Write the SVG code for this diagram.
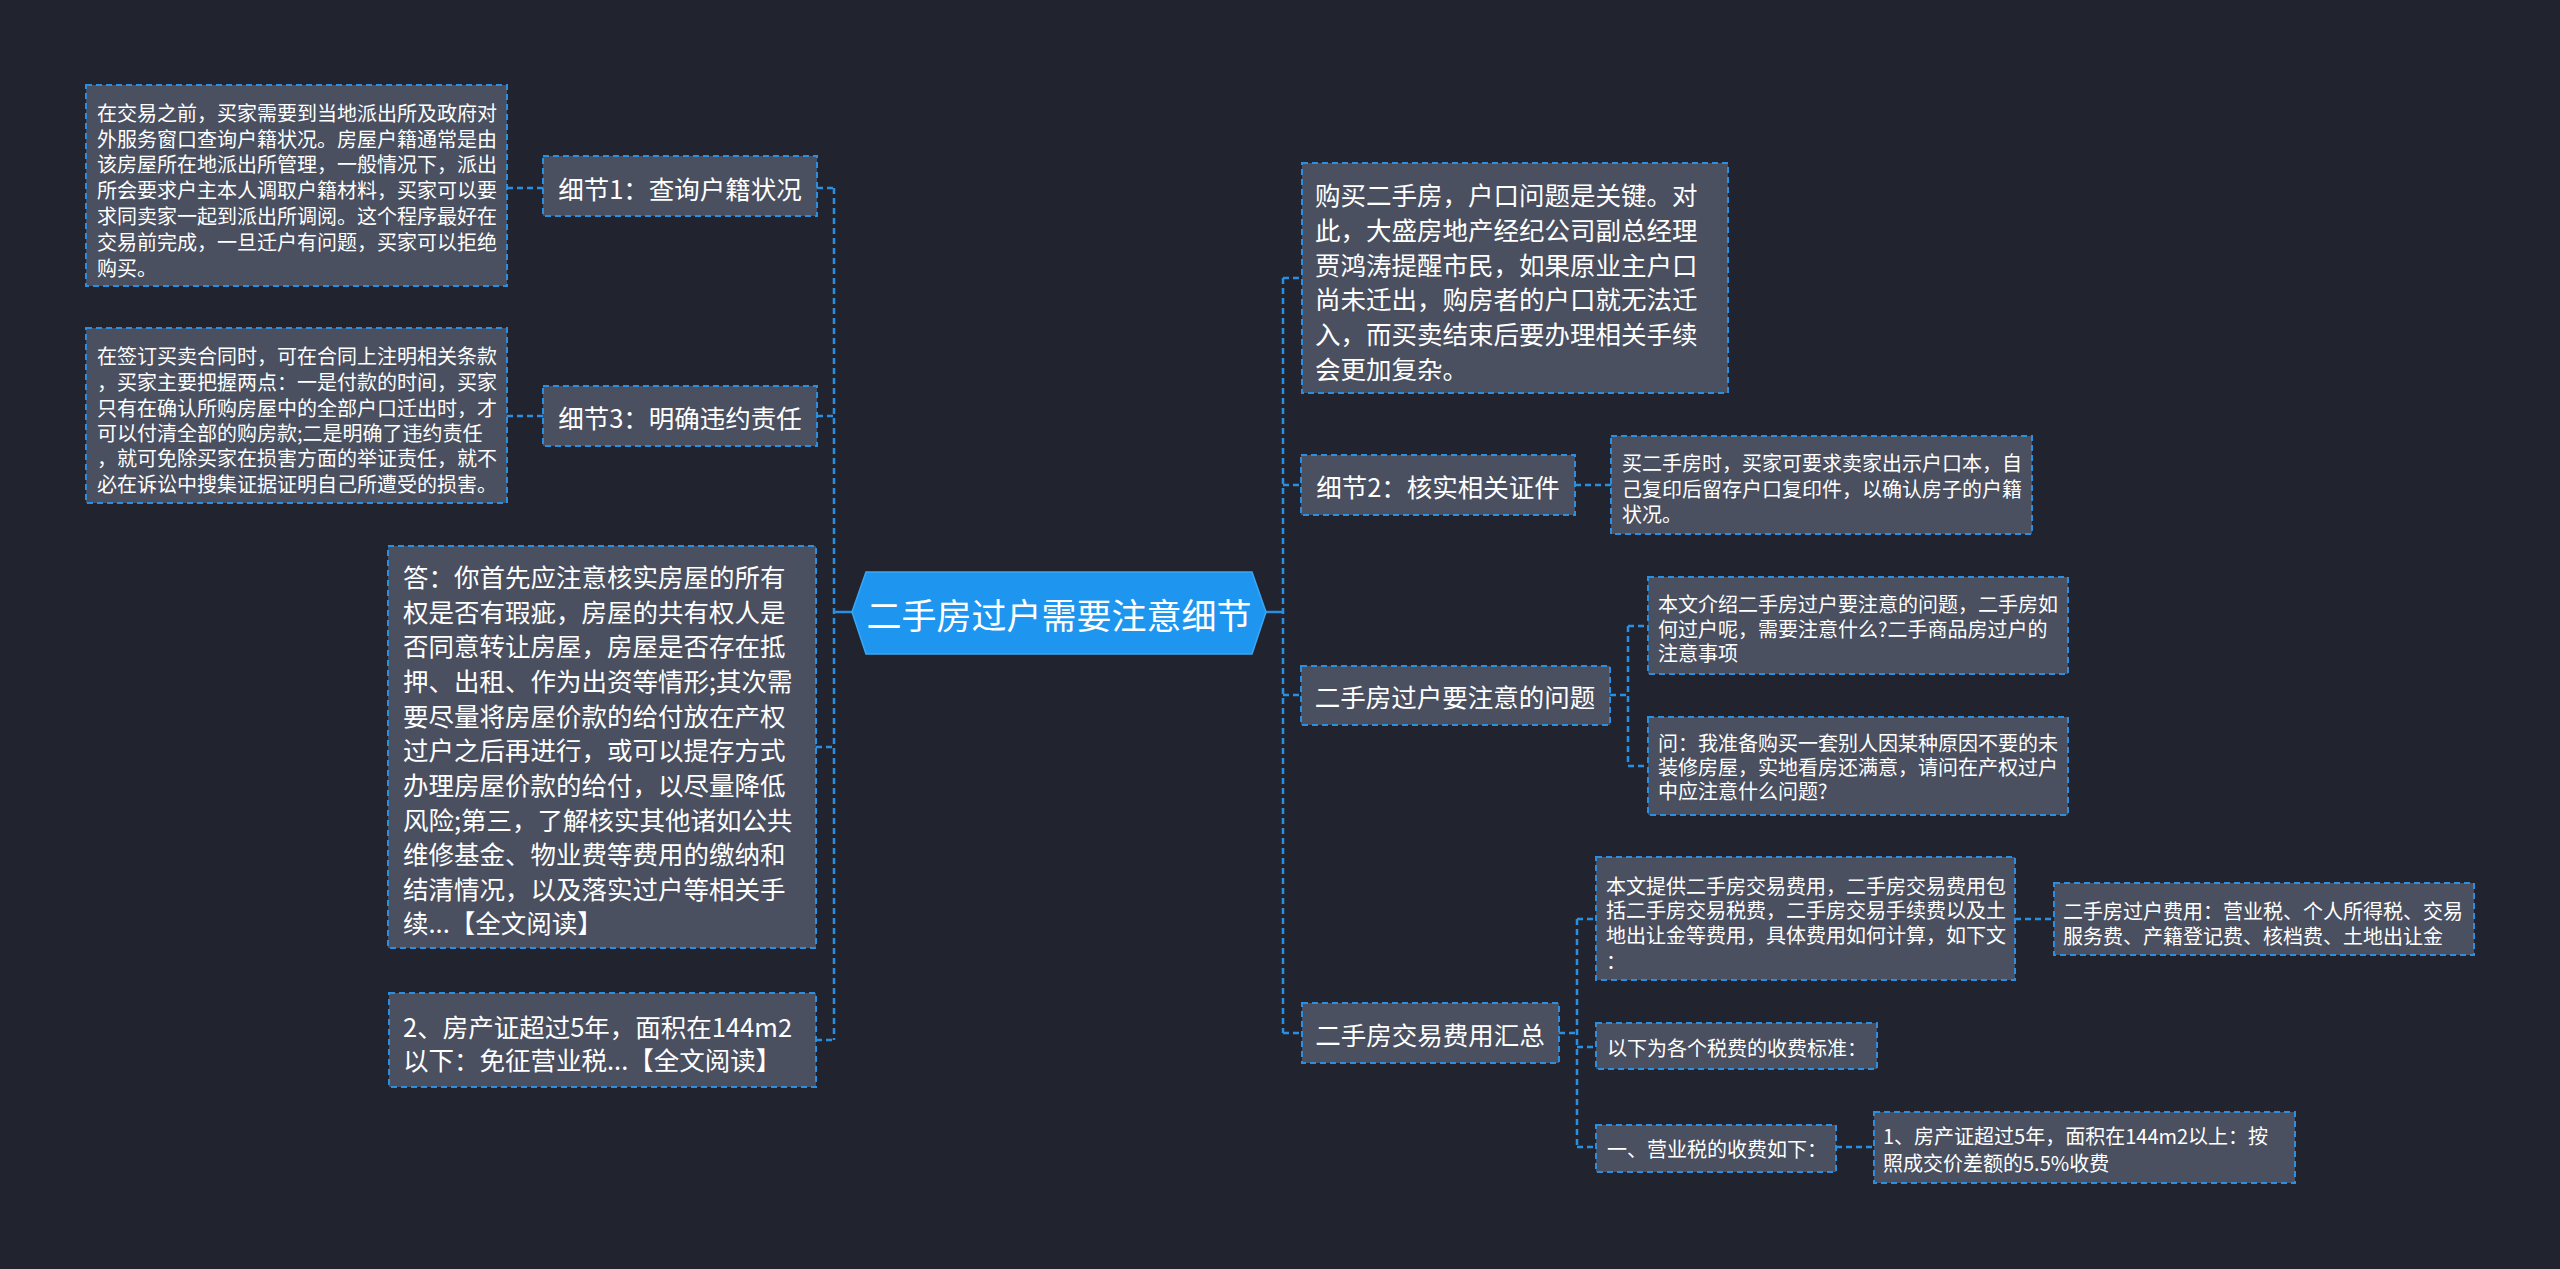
<svg xmlns="http://www.w3.org/2000/svg" width="2560" height="1269" viewBox="0 0 2560 1269">
<style>
.bg{fill:#21242f}
.box{fill:#4a505f;stroke:#2a8fe0;stroke-width:2;stroke-dasharray:6 4}
.t{font-family:"Noto Sans CJK SC","Noto Sans",sans-serif;fill:#ffffff;dominant-baseline:central}
.s{font-size:20px}
.m{font-size:25.5px}
.c{text-anchor:middle}
.ln{fill:none;stroke:#2a8fe0;stroke-width:2.5;stroke-dasharray:6 4}
.sol{fill:none;stroke:#2a8fe0;stroke-width:2.5}
</style>
<rect class="bg" x="0" y="0" width="2560" height="1269"/>
<g id="connectors">
<path class="sol" d="M852 612 H834"/>
<path class="sol" d="M1266 612 H1283"/>
<path class="ln" d="M834 188 V1040"/>
<path class="ln" d="M817 188 H834 M817 416 H834 M816 747 H834 M816 1040 H834"/>
<path class="ln" d="M507 188 H543 M507 416 H543"/>
<path class="ln" d="M1283 278 V1033"/>
<path class="ln" d="M1283 278 H1302 M1283 485 H1301 M1283 695 H1301 M1283 1033 H1302"/>
<path class="ln" d="M1575 485 H1611"/>
<path class="ln" d="M1610 695 H1628 M1628 626 V766 M1628 626 H1648 M1628 766 H1648"/>
<path class="ln" d="M1559 1033 H1577 M1577 919 V1147 M1577 919 H1596 M1577 1047 H1596 M1577 1147 H1596"/>
<path class="ln" d="M2015 919 H2054"/>
<path class="ln" d="M1836 1147 H1874"/>
</g>
<g id="root">
<polygon points="852,612 866,572 1252,572 1266,612 1252,654 866,654" fill="#1e96ef" stroke="#3aa6f5" stroke-width="1.5"/>
<text class="t c" x="1059" y="613" font-size="35">二手房过户需要注意细节</text>
</g>
<g id="n-detail1">
<rect class="box" x="543" y="156" width="274" height="60"/>
<text class="t m c" x="680" y="187">细节1：查询户籍状况</text>
</g>
<g id="n-detail1-text">
<rect class="box" x="86" y="85" width="421" height="201"/>
<text class="t s" x="97"><tspan x="97" y="112">在交易之前，买家需要到当地派出所及政府对</tspan><tspan x="97" y="138">外服务窗口查询户籍状况。房屋户籍通常是由</tspan><tspan x="97" y="163">该房屋所在地派出所管理，一般情况下，派出</tspan><tspan x="97" y="189">所会要求户主本人调取户籍材料，买家可以要</tspan><tspan x="97" y="215">求同卖家一起到派出所调阅。这个程序最好在</tspan><tspan x="97" y="241">交易前完成，一旦迁户有问题，买家可以拒绝</tspan><tspan x="97" y="267">购买。</tspan></text>
</g>
<g id="n-detail3">
<rect class="box" x="543" y="386" width="274" height="60"/>
<text class="t m c" x="680" y="416">细节3：明确违约责任</text>
</g>
<g id="n-detail3-text">
<rect class="box" x="86" y="328" width="421" height="175"/>
<text class="t s" x="97"><tspan x="97" y="355">在签订买卖合同时，可在合同上注明相关条款</tspan><tspan x="97" y="381">，买家主要把握两点：一是付款的时间，买家</tspan><tspan x="97" y="407">只有在确认所购房屋中的全部户口迁出时，才</tspan><tspan x="97" y="432">可以付清全部的购房款;二是明确了违约责任</tspan><tspan x="97" y="457">，就可免除买家在损害方面的举证责任，就不</tspan><tspan x="97" y="483">必在诉讼中搜集证据证明自己所遭受的损害。</tspan></text>
</g>
<g id="n-answer">
<rect class="box" x="388" y="546" width="428" height="402"/>
<text class="t m" x="403"><tspan x="403" y="575">答：你首先应注意核实房屋的所有</tspan><tspan x="403" y="610">权是否有瑕疵，房屋的共有权人是</tspan><tspan x="403" y="644">否同意转让房屋，房屋是否存在抵</tspan><tspan x="403" y="679">押、出租、作为出资等情形;其次需</tspan><tspan x="403" y="714">要尽量将房屋价款的给付放在产权</tspan><tspan x="403" y="748">过户之后再进行，或可以提存方式</tspan><tspan x="403" y="783">办理房屋价款的给付，以尽量降低</tspan><tspan x="403" y="818">风险;第三，了解核实其他诸如公共</tspan><tspan x="403" y="852">维修基金、物业费等费用的缴纳和</tspan><tspan x="403" y="887">结清情况，以及落实过户等相关手</tspan><tspan x="403" y="921">续...【全文阅读】</tspan></text>
</g>
<g id="n-tax2">
<rect class="box" x="389" y="993" width="427" height="94"/>
<text class="t m" x="403"><tspan x="403" y="1025">2、房产证超过5年，面积在144m2</tspan><tspan x="403" y="1058">以下：免征营业税...【全文阅读】</tspan></text>
</g>
<g id="n-intro">
<rect class="box" x="1302" y="163" width="426" height="230"/>
<text class="t m" x="1315"><tspan x="1315" y="193">购买二手房，户口问题是关键。对</tspan><tspan x="1315" y="228">此，大盛房地产经纪公司副总经理</tspan><tspan x="1315" y="263">贾鸿涛提醒市民，如果原业主户口</tspan><tspan x="1315" y="297">尚未迁出，购房者的户口就无法迁</tspan><tspan x="1315" y="332">入，而买卖结束后要办理相关手续</tspan><tspan x="1315" y="367">会更加复杂。</tspan></text>
</g>
<g id="n-detail2">
<rect class="box" x="1301" y="455" width="274" height="60"/>
<text class="t m c" x="1438" y="485">细节2：核实相关证件</text>
</g>
<g id="n-detail2-text">
<rect class="box" x="1611" y="436" width="421" height="98"/>
<text class="t s" x="1622"><tspan x="1622" y="462">买二手房时，买家可要求卖家出示户口本，自</tspan><tspan x="1622" y="488">己复印后留存户口复印件，以确认房子的户籍</tspan><tspan x="1622" y="513">状况。</tspan></text>
</g>
<g id="n-issues">
<rect class="box" x="1301" y="666" width="309" height="59"/>
<text class="t m c" x="1455" y="695">二手房过户要注意的问题</text>
</g>
<g id="n-issues-1">
<rect class="box" x="1648" y="577" width="420" height="97"/>
<text class="t s" x="1658"><tspan x="1658" y="603">本文介绍二手房过户要注意的问题，二手房如</tspan><tspan x="1658" y="628">何过户呢，需要注意什么?二手商品房过户的</tspan><tspan x="1658" y="652">注意事项</tspan></text>
</g>
<g id="n-issues-2">
<rect class="box" x="1648" y="717" width="420" height="98"/>
<text class="t s" x="1658"><tspan x="1658" y="742">问：我准备购买一套别人因某种原因不要的未</tspan><tspan x="1658" y="766">装修房屋，实地看房还满意，请问在产权过户</tspan><tspan x="1658" y="790">中应注意什么问题?</tspan></text>
</g>
<g id="n-fees">
<rect class="box" x="1302" y="1003" width="257" height="60"/>
<text class="t m c" x="1430" y="1033">二手房交易费用汇总</text>
</g>
<g id="n-fees-1">
<rect class="box" x="1596" y="857" width="419" height="123"/>
<text class="t s" x="1606"><tspan x="1606" y="885">本文提供二手房交易费用，二手房交易费用包</tspan><tspan x="1606" y="909">括二手房交易税费，二手房交易手续费以及土</tspan><tspan x="1606" y="934">地出让金等费用，具体费用如何计算，如下文</tspan><tspan x="1606" y="960">：</tspan></text>
</g>
<g id="n-fees-1a">
<rect class="box" x="2054" y="883" width="420" height="72"/>
<text class="t s" x="2063"><tspan x="2063" y="910">二手房过户费用：营业税、个人所得税、交易</tspan><tspan x="2063" y="935">服务费、产籍登记费、核档费、土地出让金</tspan></text>
</g>
<g id="n-fees-2">
<rect class="box" x="1596" y="1023" width="281" height="46"/>
<text class="t s" x="1607" y="1047">以下为各个税费的收费标准：</text>
</g>
<g id="n-fees-3">
<rect class="box" x="1596" y="1125" width="240" height="47"/>
<text class="t s" x="1607" y="1148">一、营业税的收费如下：</text>
</g>
<g id="n-fees-3a">
<rect class="box" x="1874" y="1112" width="421" height="71"/>
<text class="t s" x="1883"><tspan x="1883" y="1135">1、房产证超过5年，面积在144m2以上：按</tspan><tspan x="1883" y="1162">照成交价差额的5.5%收费</tspan></text>
</g>
</svg>
